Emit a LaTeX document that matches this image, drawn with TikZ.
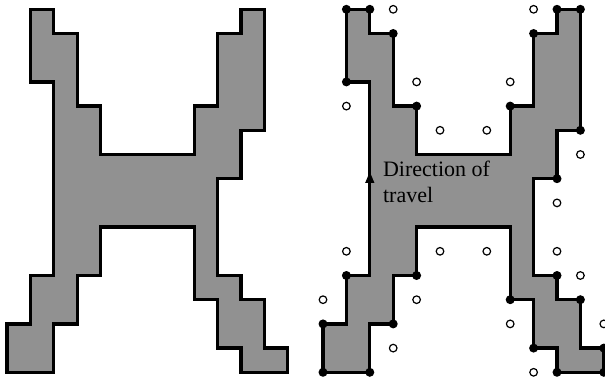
\documentclass[tikz,border=0pt]{standalone}
\usepackage{fontspec}
\setmainfont{Liberation Serif}
\usetikzlibrary{arrows.meta}
\definecolor{stipple}{gray}{0.57}

\begin{document}
\begin{tikzpicture}[
    x=23.4pt, y=-24.2pt,
    >={Triangle[length=11pt, width=9pt]},
    outline/.style={draw, line width=3.3pt, fill=stipple, line join=miter},
    corner/.style={fill=black},
    probe/.style={draw, fill=white, line width=1.2pt},
]
  \useasboundingbox (-7pt,9.3pt) rectangle (598pt,-370.7pt);

  % the same H-shaped region, plain and traced
  \foreach \ox in {0pt,316pt}
    \draw[outline, xshift=\ox]
      (1,0) -- (2,0) -- (2,1) -- (3,1) -- (3,4) -- (4,4) -- (4,6) -- (8,6)
      -- (8,4) -- (9,4) -- (9,1) -- (10,1) -- (10,0) -- (11,0) -- (11,5)
      -- (10,5) -- (10,7) -- (9,7) -- (9,11) -- (10,11) -- (10,12) -- (11,12)
      -- (11,14) -- (12,14) -- (12,15) -- (10,15) -- (10,14) -- (9,14)
      -- (9,12) -- (8,12) -- (8,9) -- (4,9) -- (4,11) -- (3,11) -- (3,13)
      -- (2,13) -- (2,15) -- (0,15) -- (0,13) -- (1,13) -- (1,11) -- (2,11)
      -- (2,3) -- (1,3) -- cycle;

  \begin{scope}[xshift=316pt]
    % convex corners
    \foreach \c/\r in {1/0, 2/0, 3/1, 1/3, 4/4, 8/4, 9/1, 10/0, 11/0, 11/5,
                       10/7, 10/11, 11/12, 12/14, 12/15, 10/15, 9/14, 8/12,
                       4/11, 3/13, 2/15, 0/15, 0/13, 1/11}
      \fill[corner] (\c,\r) circle (4.5pt);
    % outside neighbours of concave corners
    \foreach \c/\r in {3/0, 9/0, 4/3, 8/3, 1/4, 5/5, 7/5, 11/6, 10/8, 10/10,
                       1/10, 5/10, 7/10, 11/11, 0/12, 4/12, 8/13, 12/13,
                       3/14, 9/15}
      \draw[probe] (\c,\r) circle (3.8pt);

    \coordinate (tail) at (2,7.25);
    \coordinate (head) at (2,6.72);
    \draw[->, line width=1pt] (tail) -- (head);
    \node[anchor=base west, align=left, inner sep=0pt,
          font=\fontsize{22}{26}\selectfont] (travel) at (2.56,8.0)
         {Direction of\\travel};
  \end{scope}
\end{tikzpicture}
\end{document}
